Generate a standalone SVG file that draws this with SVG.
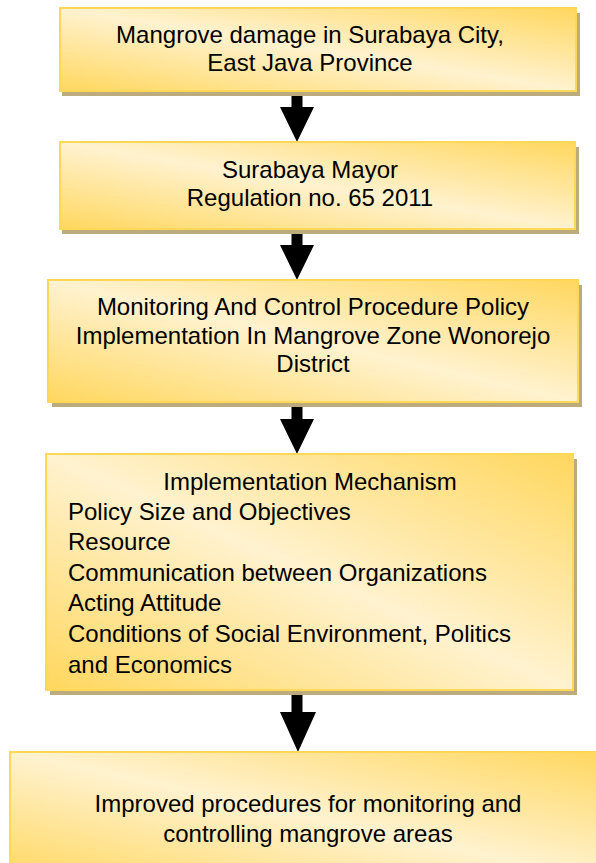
<svg xmlns="http://www.w3.org/2000/svg" width="596" height="863" viewBox="0 0 596 863">
<defs>
<linearGradient id="g" x1="0" y1="1" x2="1" y2="0">
<stop offset="0" stop-color="#FFD75E"/>
<stop offset="0.5" stop-color="#FFF2CF"/>
<stop offset="1" stop-color="#FFD75E"/>
</linearGradient>
<style>
.box{fill:url(#g);stroke:#FFD858;stroke-width:2}
.sh{fill:#BCAB7C}
.t{font-family:"Liberation Sans",Arial,sans-serif;font-size:24px;fill:#000}
.c{text-anchor:middle}
.arr{fill:#000}
</style>
</defs>
<rect width="596" height="863" fill="#fff"/>
<g id="connectors">
<path class="arr" d="M291.5 96 H302.5 V107 H314 L297 142 L280 107 H291.5 Z"/>
<path class="arr" d="M291.5 234 H302.5 V245 H314 L297 280 L280 245 H291.5 Z"/>
<path class="arr" d="M291.5 407 H302.5 V419 H314 L297 454 L280 419 H291.5 Z"/>
<path class="arr" d="M291.5 693 H302.5 V712 H316 L298 752 L280 712 H291.5 Z"/>
</g>
<g id="n1">
<rect class="sh" x="62" y="13" width="518" height="83"/>
<rect class="box" x="60" y="8" width="516" height="83"/>
<text class="t c" x="310" y="43">Mangrove damage in Surabaya City,</text>
<text class="t c" x="310" y="71">East Java Province</text>
</g>
<g id="n2">
<rect class="sh" x="62" y="147" width="517" height="87"/>
<rect class="box" x="60" y="142" width="515" height="87"/>
<text class="t c" x="310" y="178">Surabaya Mayor</text>
<text class="t c" x="310" y="206">Regulation no. 65 2011</text>
</g>
<g id="n3">
<rect class="sh" x="52" y="285" width="530" height="122"/>
<rect class="box" x="48" y="280" width="530" height="122"/>
<text class="t c" x="313" y="315">Monitoring And Control Procedure Policy</text>
<text class="t c" x="313" y="344">Implementation In Mangrove Zone Wonorejo</text>
<text class="t c" x="313" y="372">District</text>
</g>
<g id="n4">
<rect class="sh" x="50" y="459" width="527" height="236"/>
<rect class="box" x="46" y="454" width="527" height="236"/>
<text class="t c" x="310" y="490">Implementation Mechanism</text>
<text class="t" x="68" y="520">Policy Size and Objectives</text>
<text class="t" x="68" y="550">Resource</text>
<text class="t" x="68" y="581">Communication between Organizations</text>
<text class="t" x="68" y="611">Acting Attitude</text>
<text class="t" x="68" y="642">Conditions of Social Environment, Politics</text>
<text class="t" x="68" y="673">and Economics</text>
</g>
<g id="n5">
<rect class="box" x="10" y="752" width="600" height="130"/>
<text class="t c" x="308" y="812">Improved procedures for monitoring and</text>
<text class="t c" x="308" y="842">controlling mangrove areas</text>
</g>
</svg>
